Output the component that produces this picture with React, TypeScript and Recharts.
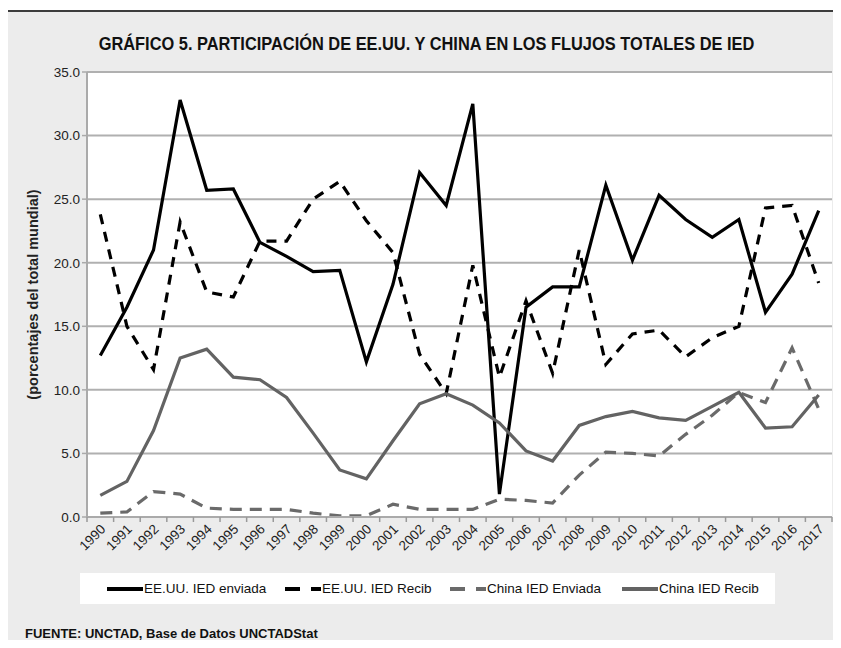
import React from 'react';
import { LineChart, Line, XAxis, YAxis, CartesianGrid } from 'recharts';

const years = [
  '1990', '1991', '1992', '1993', '1994', '1995', '1996', '1997', '1998', '1999',
  '2000', '2001', '2002', '2003', '2004', '2005', '2006', '2007', '2008', '2009',
  '2010', '2011', '2012', '2013', '2014', '2015', '2016', '2017',
];

const usEnviada = [
  12.7, 16.5, 21.0, 32.8, 25.7, 25.8, 21.6, 20.5, 19.3, 19.4,
  12.2, 18.3, 27.1, 24.5, 32.5, 1.8, 16.5, 18.1, 18.1, 26.1,
  20.2, 25.3, 23.4, 22.0, 23.4, 16.1, 19.1, 24.1,
];

const usRecib = [
  23.8, 15.0, 11.6, 23.2, 17.7, 17.3, 21.7, 21.7, 25.0, 26.4,
  23.3, 20.8, 12.8, 9.7, 19.8, 11.0, 17.0, 11.3, 21.0, 12.0,
  14.4, 14.7, 12.6, 14.1, 15.0, 24.3, 24.5, 18.4,
];

const chinaEnviada = [
  0.3, 0.4, 2.0, 1.8, 0.7, 0.6, 0.6, 0.6, 0.3, 0.1,
  0.1, 1.0, 0.6, 0.6, 0.6, 1.4, 1.3, 1.1, 3.3, 5.1,
  5.0, 4.8, 6.5, 8.0, 9.8, 9.0, 13.3, 8.5,
];

const chinaRecib = [
  1.7, 2.8, 6.8, 12.5, 13.2, 11.0, 10.8, 9.4, 6.6, 3.7,
  3.0, 6.0, 8.9, 9.7, 8.8, 7.4, 5.2, 4.4, 7.2, 7.9,
  8.3, 7.8, 7.6, 8.7, 9.8, 7.0, 7.1, 9.6,
];

const yTicks = [0, 5, 10, 15, 20, 25, 30, 35];

const series = [
  { key: 'usEnviada', name: 'EE.UU. IED enviada', color: '#000', dash: undefined },
  { key: 'usRecib', name: 'EE.UU. IED Recib', color: '#000', dash: '10 8' },
  { key: 'chinaEnviada', name: 'China IED Enviada', color: '#6a6a6a', dash: '12 8' },
  { key: 'chinaRecib', name: 'China IED Recib', color: '#636363', dash: undefined },
];

const data = years.map((year, i) => ({
  year,
  usEnviada: usEnviada[i],
  usRecib: usRecib[i],
  chinaEnviada: chinaEnviada[i],
  chinaRecib: chinaRecib[i],
}));

const FONT = "'Liberation Sans', Arial, sans-serif";
const W = 841;
const H = 648;
const M = { top: 72, right: 9, bottom: 71, left: 37 };
const Y_W = 50;
const halfBand = (W - M.left - M.right - Y_W) / years.length / 2;

const XTick = (props: any) => {
  const { x, y, payload, index } = props;
  const axisY = y - 8;
  return (
    <g>
      <line x1={x - halfBand} x2={x - halfBand} y1={axisY} y2={axisY + 5} stroke="#999" strokeWidth={1.5} />
      {index === years.length - 1 && (
        <line x1={x + halfBand} x2={x + halfBand} y1={axisY} y2={axisY + 5} stroke="#999" strokeWidth={1.5} />
      )}
      <text
        x={x + 6}
        y={y + 5}
        textAnchor="end"
        fontSize={13.5}
        fontFamily={FONT}
        fill="#222"
        transform={`rotate(-45, ${x + 6}, ${y + 5})`}
      >
        {payload.value}
      </text>
    </g>
  );
};

const Swatch = ({ color, dash }: { color: string; dash?: string }) => (
  <svg width={36} height={10} style={{ display: 'block' }}>
    <line x1={0} x2={36} y1={5} y2={5} stroke={color} strokeWidth={4} strokeDasharray={dash ? '15 11' : undefined} />
  </svg>
);

export default function App() {
  return (
    <div style={{ position: 'relative', width: W, height: H, margin: -8, background: '#fff', overflow: 'hidden' }}>
      <div
        style={{
          position: 'absolute',
          left: 5,
          top: 10,
          width: 900,
          height: 700,
          border: '2px solid #3c3c3c',
          background: '#ececec',
        }}
      />
      <div
        style={{
          position: 'absolute',
          left: 0,
          top: 34,
          width: W,
          textAlign: 'center',
          fontFamily: FONT,
          fontWeight: 'bold',
          fontSize: 18,
          color: '#111',
          transform: 'translateX(6px) scaleX(0.91)',
        }}
      >
        GRÁFICO 5. PARTICIPACIÓN DE EE.UU. Y CHINA EN LOS FLUJOS TOTALES DE IED
      </div>
      <div style={{ position: 'absolute', left: 0, top: 0 }}>
        <LineChart width={W} height={H} data={data} margin={M}>
          <CartesianGrid vertical={false} stroke="#b0b0b0" strokeWidth={2} fill="#fff" />
          <XAxis
            dataKey="year"
            height={60}
            interval={0}
            padding={{ left: halfBand, right: halfBand }}
            tickLine={false}
            tickSize={5}
            tickMargin={3}
            axisLine={{ stroke: '#aaa', strokeWidth: 2 }}
            tick={<XTick />}
          />
          <YAxis
            width={Y_W}
            domain={[0, 35]}
            ticks={yTicks}
            interval={0}
            tickFormatter={(v: number) => v.toFixed(1)}
            axisLine={{ stroke: '#aaa', strokeWidth: 2 }}
            tickLine={{ stroke: '#aaa', strokeWidth: 1.5 }}
            tickSize={5}
            tick={{ fontSize: 13.5, fontFamily: FONT, fill: '#222' }}
            label={{
              content: ({ viewBox }: any) => {
                const cx = viewBox.x - 4;
                const cy = viewBox.y + viewBox.height / 2;
                return (
                  <text
                    x={cx}
                    y={cy}
                    textAnchor="middle"
                    dominantBaseline="central"
                    fontSize={14.5}
                    fontWeight="bold"
                    fontFamily={FONT}
                    fill="#222"
                    transform={`rotate(-90, ${cx}, ${cy})`}
                  >
                    (porcentajes del total mundial)
                  </text>
                );
              },
            }}
          />
          {series.map((s) => (
            <Line
              key={s.key}
              dataKey={s.key}
              name={s.name}
              stroke={s.color}
              strokeWidth={3.2}
              strokeDasharray={s.dash}
              dot={false}
              activeDot={false}
              type="linear"
              isAnimationActive={false}
            />
          ))}
        </LineChart>
      </div>
      <div
        style={{
          position: 'absolute',
          left: 80,
          top: 573,
          width: 695,
          height: 31,
          background: '#fff',
          fontFamily: FONT,
          fontSize: 13.5,
          color: '#111',
        }}
      >
        {series.map((s, i) => (
          <span
            key={s.key}
            style={{
              position: 'absolute',
              left: [27, 205, 370, 542][i],
              top: 0,
              height: 31,
              display: 'flex',
              alignItems: 'center',
              gap: 1,
            }}
          >
            <Swatch color={s.color} dash={s.dash} />
            {s.name}
          </span>
        ))}
      </div>
      <div
        style={{
          position: 'absolute',
          left: 25,
          top: 626,
          fontFamily: FONT,
          fontWeight: 'bold',
          fontSize: 13,
          color: '#111',
        }}
      >
        FUENTE: UNCTAD, Base de Datos UNCTADStat
      </div>
    </div>
  );
}
